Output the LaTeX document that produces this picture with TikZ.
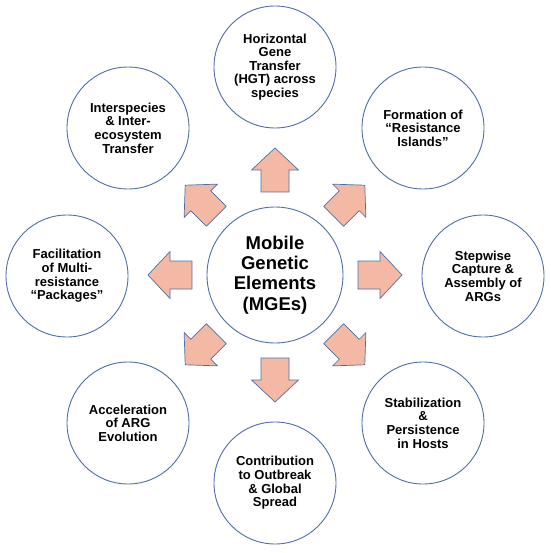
\documentclass[tikz,border=0pt]{standalone}
\usepackage{fontspec}
\setmainfont{Liberation Sans}
\begin{document}
\begin{tikzpicture}[x=1pt,y=-1pt,
  outerc/.style={circle, draw=edgeblue, line width=0.9pt, fill=white, minimum size=122pt, inner sep=0pt, align=center, font=\bfseries\fontsize{13}{13.6}\selectfont},
  centerc/.style={circle, draw=edgeblue, line width=0.9pt, fill=white, minimum size=136pt, inner sep=0pt, align=center, font=\bfseries\fontsize{18.5}{20.3}\selectfont},
  blockarrow/.style={fill=arrowfill, draw=edgeblue, line width=0.7pt, line join=miter}]
\definecolor{edgeblue}{HTML}{4E6FA5}
\definecolor{arrowfill}{HTML}{F4B9A5}
\useasboundingbox (0,0) rectangle (550,553);
\node[centerc] (mge) at (275,275) {Mobile\\Genetic\\Elements\\(MGEs)};
\node[outerc] (hgt) at (275,67) {Horizontal\\Gene\\Transfer\\(HGT) across\\species};
\node[outerc] (form) at (423,128) {Formation of\\“Resistance\\Islands”};
\node[outerc] (step) at (483,276) {Stepwise\\Capture \&\\Assembly of\\ARGs};
\node[outerc] (stab) at (423,423) {Stabilization\\\&\\Persistence\\in Hosts};
\node[outerc] (contr) at (275,483) {Contribution\\to Outbreak\\\& Global\\Spread};
\node[outerc] (accel) at (128,423) {Acceleration\\of ARG\\Evolution};
\node[outerc] (facil) at (67,276) {Facilitation\\of Multi-\\resistance\\“Packages”};
\node[outerc] (inter) at (128,128) {Interspecies\\\& Inter-\\ecosystem\\Transfer};
\foreach \a in {90,45,0,-45,-90,-135,180,135}{
  \begin{scope}[shift={(mge.center)}, rotate=\a]
    \draw[blockarrow] (83,-14) -- (105,-14) -- (105,-23.5) -- (127,0) -- (105,23.5) -- (105,14) -- (83,14) -- cycle;
  \end{scope}
}
\end{tikzpicture}
\end{document}
